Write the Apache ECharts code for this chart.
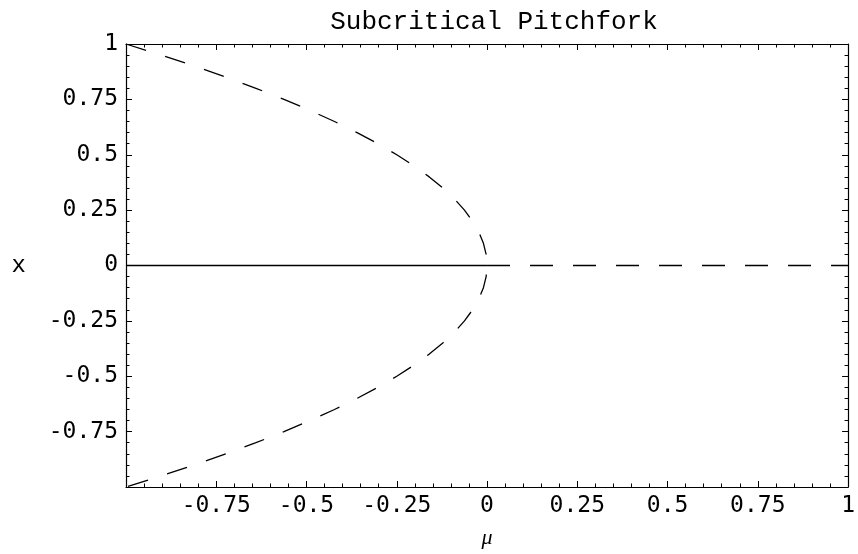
<!DOCTYPE html>
<html>
<head>
<meta charset="utf-8">
<script src="https://cdn.jsdelivr.net/npm/echarts@6/dist/echarts.min.js"></script>
<style>html,body{margin:0;padding:0;background:#fff}#c{width:858px;height:554px}</style>
</head>
<body>
<div id="c"></div>
<script>
// Unstable pitchfork branches (mu, x)
const branchMu = [-1, -0.9025, -0.81, -0.7225, -0.64, -0.5625, -0.49, -0.4225, -0.36, -0.3025, -0.25, -0.2025, -0.16, -0.1225, -0.09, -0.0625, -0.04, -0.0225, -0.01, -0.0025, 0,
                  -0.0025, -0.01, -0.0225, -0.04, -0.0625, -0.09, -0.1225, -0.16, -0.2025, -0.25, -0.3025, -0.36, -0.4225, -0.49, -0.5625, -0.64, -0.7225, -0.81, -0.9025, -1];
const branchX  = [1, 0.95, 0.9, 0.85, 0.8, 0.75, 0.7, 0.65, 0.6, 0.55, 0.5, 0.45, 0.4, 0.35, 0.3, 0.25, 0.2, 0.15, 0.1, 0.05, 0,
                  -0.05, -0.1, -0.15, -0.2, -0.25, -0.3, -0.35, -0.4, -0.45, -0.5, -0.55, -0.6, -0.65, -0.7, -0.75, -0.8, -0.85, -0.9, -0.95, -1];
// Trivial branch x = 0: stable for mu < 0, unstable for mu > 0
const stableMu = [-1, 0];
const stableX = [0, 0];
const unstableMu = [0, 1];
const unstableX = [0, 0];
const tickLabelsX = ['-0.75', '-0.5', '-0.25', '0', '0.25', '0.5', '0.75', '1'];
const tickLabelsY = ['-0.75', '-0.5', '-0.25', '0', '0.25', '0.5', '0.75', '1'];

const zip = (a, b) => a.map((v, i) => [v, b[i]]);
const chart = echarts.init(document.getElementById('c'), null, {renderer: 'canvas'});
const tickFont = {fontFamily: 'DejaVu Sans Mono', fontSize: 23, color: '#000'};
function fmt(list) {
  return function (v) {
    const s = String(Math.round(v * 100) / 100);
    return list.indexOf(s) >= 0 ? s : '';
  };
}
const common = {
  min: -1, max: 1, interval: 0.25,
  axisLine: {show: true, onZero: false, lineStyle: {color: '#000', width: 1.2}},
  axisTick: {show: true, inside: true, length: 6, lineStyle: {color: '#000', width: 1}},
  minorTick: {show: true, splitNumber: 5, length: 3.5, lineStyle: {color: '#000', width: 1}},
  splitLine: {show: false}
};
chart.setOption({
  animation: false,
  backgroundColor: '#fff',
  title: {
    text: 'Subcritical Pitchfork', left: 489, top: 4, textAlign: 'center',
    textStyle: {fontFamily: 'Liberation Mono', fontSize: 26, fontWeight: 'normal', color: '#000'}
  },
  grid: {left: 126, right: 5, top: 44, bottom: 62, containLabel: false},
  xAxis: [
    Object.assign({}, common, {
      type: 'value', position: 'bottom',
      name: 'μ', nameLocation: 'middle', nameGap: 40, nameMoveOverlap: false,
      nameTextStyle: {fontFamily: 'Liberation Serif', fontStyle: 'italic', fontSize: 22, color: '#000'},
      axisLabel: Object.assign({margin: 8, formatter: fmt(tickLabelsX)}, tickFont)
    }),
    Object.assign({}, common, {type: 'value', position: 'top', axisLabel: {show: false}})
  ],
  yAxis: [
    Object.assign({}, common, {
      type: 'value', position: 'left',
      name: 'x', nameLocation: 'middle', nameGap: 100, nameRotate: 0, nameMoveOverlap: false,
      nameTextStyle: {fontFamily: 'Liberation Mono', fontSize: 24, color: '#000'},
      axisLabel: Object.assign({margin: 8, formatter: fmt(tickLabelsY)}, tickFont)
    }),
    Object.assign({}, common, {type: 'value', position: 'right', axisLabel: {show: false}})
  ],
  series: [
    {type: 'line', data: zip(branchMu, branchX), symbol: 'none', silent: true,
     lineStyle: {color: '#000', width: 1.3, type: [21, 20]}},
    {type: 'line', data: zip(stableMu, stableX), symbol: 'none', silent: true,
     lineStyle: {color: '#000', width: 1.3, type: 'solid'}},
    {type: 'line', data: zip(unstableMu, unstableX), symbol: 'none', silent: true,
     lineStyle: {color: '#000', width: 1.3, type: [23, 20]}}
  ]
});
</script>
</body>
</html>
